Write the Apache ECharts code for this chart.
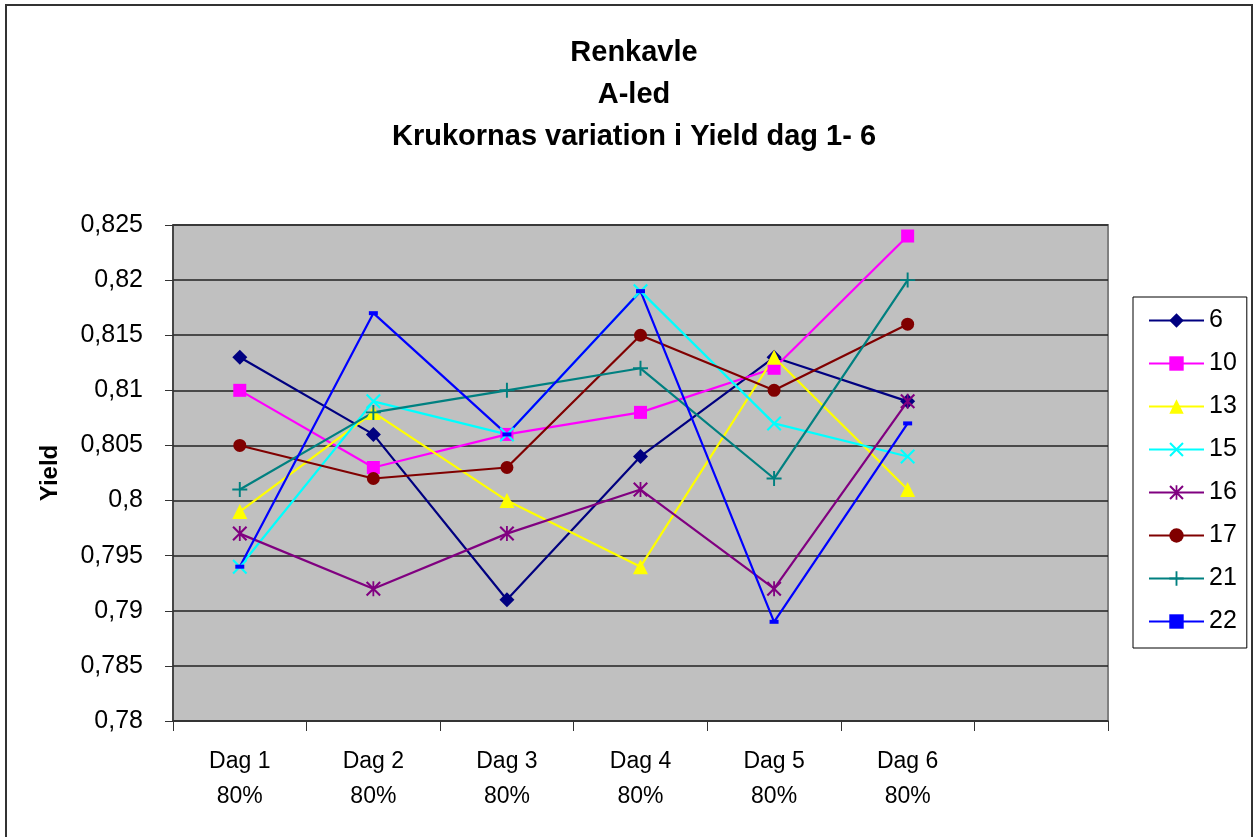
<!DOCTYPE html>
<html>
<head>
<meta charset="utf-8">
<script src="https://cdn.jsdelivr.net/npm/echarts@6/dist/echarts.min.js"></script>
<style>html,body{margin:0;padding:0;background:#fff}#c{width:1254px;height:837px}</style>
</head>
<body>
<div id="c"></div>
<script>
const titleLines = ['Renkavle', 'A-led', 'Krukornas variation i Yield dag 1- 6'];
const categories = ['Dag 1\n80%', 'Dag 2\n80%', 'Dag 3\n80%', 'Dag 4\n80%', 'Dag 5\n80%', 'Dag 6\n80%', ''];
const seriesNames = ['6', '10', '13', '15', '16', '17', '21', '22'];
const s6  = [0.813, 0.806, 0.791, 0.804, 0.813, 0.809];
const s10 = [0.810, 0.803, 0.806, 0.808, 0.812, 0.824];
const s13 = [0.799, 0.808, 0.800, 0.794, 0.813, 0.801];
const s15 = [0.794, 0.809, 0.806, 0.819, 0.807, 0.804];
const s16 = [0.797, 0.792, 0.797, 0.801, 0.792, 0.809];
const s17 = [0.805, 0.802, 0.803, 0.815, 0.810, 0.816];
const s21 = [0.801, 0.808, 0.810, 0.812, 0.802, 0.820];
const s22 = [0.794, 0.817, 0.806, 0.819, 0.789, 0.807];
const yTicks = {min: 0.78, max: 0.825, interval: 0.005};
const yName = 'Yield';

const values = [s6, s10, s13, s15, s16, s17, s21, s22];
const colors = ['#000080', '#FF00FF', '#FFFF00', '#00FFFF', '#800080', '#800000', '#008080', '#0000FF'];
const X_PATH = 'path://M0,1L1,0L10,9L9,10Z M9,0L10,1L1,10L0,9Z';
const STAR_PATH = 'path://M0,1L1,0L10,9L9,10Z M9,0L10,1L1,10L0,9Z M4.4,0H5.6V10H4.4Z';
const PLUS_PATH = 'path://M4.35,0H5.65V4.35H10V5.65H5.65V10H4.35V5.65H0V4.35H4.35Z';
const DASH_PATH = 'path://M0,0H9V4H0Z';
const symbols = [
  ['diamond', 15], ['rect', 13], ['triangle', 15], [X_PATH, 15],
  [STAR_PATH, 15], ['circle', 13], [PLUS_PATH, 15], [DASH_PATH, 9]
];

const chart = echarts.init(document.getElementById('c'), null, {renderer: 'canvas'});
const font = "'Liberation Sans', Arial, sans-serif";

chart.setOption({
  backgroundColor: '#fff',
  animation: false,
  textStyle: {fontFamily: font, color: '#000'},
  graphic: [
    {type: 'rect', shape: {x: 6, y: 5, width: 1246, height: 845}, style: {fill: 'none', stroke: '#333', lineWidth: 2}, z: 0, silent: true},
    {type: 'text', x: 634, y: 95, style: {text: titleLines.join('\n'), font: "bold 29px " + font, fill: '#000', textAlign: 'center', textVerticalAlign: 'middle', lineHeight: 42}, z: 10}
  ],
  grid: {left: 173, top: 225, right: 146, bottom: 116, show: true, backgroundColor: '#C0C0C0', borderColor: '#808080', borderWidth: 2},
  legend: {
    orient: 'vertical', left: 1133, top: 297,
    backgroundColor: '#fff', borderColor: '#000', borderWidth: 1,
    padding: [11, 10, 14, 15],
    itemWidth: 55, itemHeight: 18, itemGap: 18,
    symbolKeepAspect: true,
    lineStyle: {width: 2},
    textStyle: {fontSize: 25, fontFamily: font, color: '#000'},
    data: seriesNames
  },
  xAxis: {
    type: 'category', data: categories, boundaryGap: true,
    axisLine: {show: true, lineStyle: {color: '#333', width: 1.5}},
    axisTick: {show: true, length: 10, lineStyle: {color: '#333'}, alignWithLabel: false},
    axisLabel: {fontSize: 23, fontFamily: font, color: '#000', lineHeight: 35, margin: 23, interval: 0},
    splitLine: {show: false}
  },
  yAxis: {
    type: 'value', min: yTicks.min, max: yTicks.max, interval: yTicks.interval,
    name: yName, nameLocation: 'middle', nameGap: 111, nameRotate: 90,
    nameTextStyle: {fontSize: 24, fontWeight: 'bold', fontFamily: font, color: '#000'},
    axisLine: {show: true, lineStyle: {color: '#333', width: 1.5}},
    axisTick: {show: true, length: 8, lineStyle: {color: '#333'}},
    axisLabel: {fontSize: 25, fontFamily: font, color: '#000', margin: 30,
      formatter: v => parseFloat(v.toFixed(3)).toString().replace('.', ',')},
    splitLine: {show: true, lineStyle: {color: '#222', width: 1.5}}
  },
  series: seriesNames.map((n, i) => ({
    name: n, type: 'line', data: values[i],
    symbol: symbols[i][0], symbolSize: symbols[i][1],
    symbolKeepAspect: true,
    showAllSymbol: true,
    itemStyle: {color: colors[i], borderWidth: 0},
    lineStyle: {color: colors[i], width: 2.2},
    emphasis: {disabled: true}
  }))
});
</script>
</body>
</html>
